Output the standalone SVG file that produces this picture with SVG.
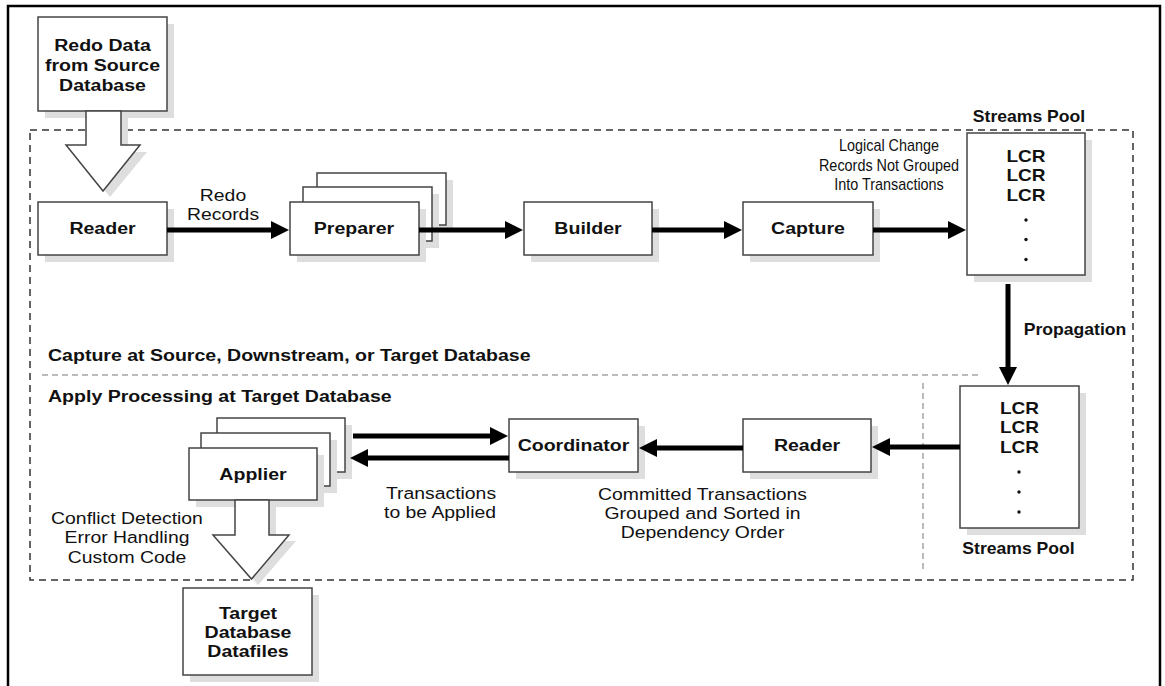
<svg xmlns="http://www.w3.org/2000/svg" width="1165" height="686" viewBox="0 0 1165 686">
<defs>
<style>
.box{fill:#fff;stroke:#444;stroke-width:1.5}
.sh{fill:#dedede}
.b{font-family:"Liberation Sans",Arial,Helvetica,sans-serif;font-weight:bold;font-size:17px;fill:#111}
.bs{font-family:"Liberation Sans",Arial,Helvetica,sans-serif;font-weight:bold;font-size:16px;fill:#111}
.r{font-family:"Liberation Sans",Arial,Helvetica,sans-serif;font-size:17px;fill:#111}
.rs{font-family:"Liberation Sans",Arial,Helvetica,sans-serif;font-size:16px;fill:#111}
.c{text-anchor:middle}
.ln{stroke:#000;stroke-width:5;fill:none}
.dot{fill:#111}
</style>
<marker id="ah" markerUnits="userSpaceOnUse" markerWidth="18" markerHeight="18" refX="6" refY="9" orient="auto">
<path d="M0,0 L18,9 L0,18 z" fill="#000"/>
</marker>
</defs>
<rect x="0" y="0" width="1165" height="686" fill="#fff"/>
<rect x="8" y="6" width="1152" height="700" fill="none" stroke="#000" stroke-width="2.5"/>

<g id="regions">
<rect x="30" y="130" width="1103" height="450" fill="none" stroke="#333" stroke-width="1.5" stroke-dasharray="7 5"/>
<line x1="42" y1="375" x2="980" y2="375" stroke="#bbb" stroke-width="2" stroke-dasharray="6 4"/>
<line x1="923" y1="383" x2="923" y2="573" stroke="#bbb" stroke-width="2" stroke-dasharray="6 4"/>
<text class="b" transform="translate(48,361) scale(1.15,1)">Capture at Source, Downstream, or Target Database</text>
<text class="b" transform="translate(48,402) scale(1.15,1)">Apply Processing at Target Database</text>
</g>

<g id="redo-data">
<rect class="sh" x="45" y="24" width="129" height="94"/>
<rect class="box" x="38" y="17" width="129" height="94"/>
<text class="b c" transform="translate(102.5,51) scale(1.15,1)">Redo Data</text>
<text class="b c" transform="translate(102.5,71) scale(1.15,1)">from Source</text>
<text class="b c" transform="translate(102.5,91) scale(1.15,1)">Database</text>
<polygon class="sh" points="93,118 93,152 73,152 110,197 147,152 128,152 128,118"/>
<polygon class="box" points="86,111 86,145 66,145 103,191 140,145 121,145 121,111"/>
</g>

<g id="reader">
<rect class="sh" x="45" y="209" width="129" height="53"/>
<rect class="box" x="38" y="202" width="129" height="53"/>
<text class="b c" transform="translate(102.5,234) scale(1.15,1)">Reader</text>
</g>

<g id="preparer">
<rect class="sh" x="324" y="180" width="129" height="52"/>
<rect class="box" x="317" y="173" width="129" height="52"/>
<rect class="sh" x="310" y="194" width="129" height="54"/>
<rect class="box" x="303" y="187" width="129" height="54"/>
<rect class="sh" x="297" y="209" width="129" height="53"/>
<rect class="box" x="290" y="202" width="129" height="53"/>
<text class="b c" transform="translate(354,234) scale(1.15,1)">Preparer</text>
</g>

<g id="builder">
<rect class="sh" x="531" y="209" width="128" height="53"/>
<rect class="box" x="524" y="202" width="128" height="53"/>
<text class="b c" transform="translate(588,234) scale(1.15,1)">Builder</text>
</g>

<g id="capture">
<rect class="sh" x="750" y="209" width="130" height="53"/>
<rect class="box" x="743" y="202" width="130" height="53"/>
<text class="b c" transform="translate(808,234) scale(1.15,1)">Capture</text>
</g>

<g id="streams-pool-1">
<text class="bs c" transform="translate(1029,122) scale(1.1,1)">Streams Pool</text>
<rect class="sh" x="974" y="140" width="118" height="142"/>
<rect class="box" x="967" y="133" width="118" height="142"/>
<text class="b c" transform="translate(1026,162) scale(1.12,1)">LCR</text>
<text class="b c" transform="translate(1026,181) scale(1.12,1)">LCR</text>
<text class="b c" transform="translate(1026,201) scale(1.12,1)">LCR</text>
<circle class="dot" cx="1026" cy="220" r="1.7"/>
<circle class="dot" cx="1026" cy="239.5" r="1.7"/>
<circle class="dot" cx="1026" cy="259.5" r="1.7"/>
</g>

<g id="streams-pool-2">
<rect class="sh" x="967" y="393" width="119" height="142"/>
<rect class="box" x="960" y="386" width="119" height="142"/>
<text class="b c" transform="translate(1019.5,413.5) scale(1.12,1)">LCR</text>
<text class="b c" transform="translate(1019.5,432.5) scale(1.12,1)">LCR</text>
<text class="b c" transform="translate(1019.5,452.5) scale(1.12,1)">LCR</text>
<circle class="dot" cx="1019" cy="472" r="1.7"/>
<circle class="dot" cx="1019" cy="492" r="1.7"/>
<circle class="dot" cx="1019" cy="512" r="1.7"/>
<text class="bs c" transform="translate(1018.5,553.5) scale(1.1,1)">Streams Pool</text>
</g>

<g id="reader-2">
<rect class="sh" x="750" y="426" width="128" height="53"/>
<rect class="box" x="743" y="419" width="128" height="53"/>
<text class="b c" transform="translate(807,451) scale(1.15,1)">Reader</text>
</g>

<g id="coordinator">
<rect class="sh" x="516" y="426" width="129" height="53"/>
<rect class="box" x="509" y="419" width="129" height="53"/>
<text class="b c" transform="translate(573.5,451) scale(1.15,1)">Coordinator</text>
</g>

<g id="applier">
<rect class="sh" x="224" y="425" width="128" height="54"/>
<rect class="box" x="217" y="418" width="128" height="54"/>
<rect class="sh" x="208" y="440" width="129" height="53"/>
<rect class="box" x="201" y="433" width="129" height="53"/>
<rect class="sh" x="196" y="455" width="128" height="52"/>
<rect class="box" x="189" y="448" width="128" height="52"/>
<text class="b c" transform="translate(253,480) scale(1.15,1)">Applier</text>
<polygon class="sh" points="242,507 242,541 220,541 258,585 296,541 276,541 276,507"/>
<polygon class="box" points="235,500 235,535 213,535 251.5,579 289,535 269,535 269,500"/>
</g>

<g id="target-datafiles">
<rect class="sh" x="190" y="595" width="129" height="87"/>
<rect class="box" x="183" y="588" width="129" height="87"/>
<text class="b c" transform="translate(248,618.5) scale(1.15,1)">Target</text>
<text class="b c" transform="translate(248,637.5) scale(1.15,1)">Database</text>
<text class="b c" transform="translate(248,657) scale(1.15,1)">Datafiles</text>
</g>

<g id="connectors">
<line class="ln" x1="167" y1="230" x2="277" y2="230" marker-end="url(#ah)"/>
<line class="ln" x1="419" y1="230" x2="511" y2="230" marker-end="url(#ah)"/>
<line class="ln" x1="652" y1="230" x2="730" y2="230" marker-end="url(#ah)"/>
<line class="ln" x1="873" y1="230" x2="954" y2="230" marker-end="url(#ah)"/>
<line class="ln" x1="1008" y1="284" x2="1008" y2="373" marker-end="url(#ah)"/>
<line class="ln" x1="960" y1="447" x2="884" y2="447" marker-end="url(#ah)"/>
<line class="ln" x1="743" y1="448" x2="651" y2="448" marker-end="url(#ah)"/>
<line class="ln" x1="353" y1="436" x2="496" y2="436" marker-end="url(#ah)"/>
<line class="ln" x1="509" y1="458" x2="362" y2="458" marker-end="url(#ah)"/>
</g>

<g id="labels">
<text class="r c" transform="translate(223,201) scale(1.14,1)">Redo</text>
<text class="r c" transform="translate(223,220) scale(1.14,1)">Records</text>
<text class="rs c" transform="translate(889,151) scale(0.9,1)">Logical Change</text>
<text class="rs c" transform="translate(889,171) scale(0.9,1)">Records Not Grouped</text>
<text class="rs c" transform="translate(889,190) scale(0.9,1)">Into Transactions</text>
<text class="bs c" transform="translate(1075,335) scale(1.1,1)">Propagation</text>
<text class="r c" transform="translate(441,499) scale(1.14,1)">Transactions</text>
<text class="r c" transform="translate(440,518) scale(1.14,1)">to be Applied</text>
<text class="r c" transform="translate(702.5,500) scale(1.14,1)">Committed Transactions</text>
<text class="r c" transform="translate(702.5,519) scale(1.14,1)">Grouped and Sorted in</text>
<text class="r c" transform="translate(702.5,538) scale(1.14,1)">Dependency Order</text>
<text class="r c" transform="translate(127,524) scale(1.14,1)">Conflict Detection</text>
<text class="r c" transform="translate(127,543) scale(1.14,1)">Error Handling</text>
<text class="r c" transform="translate(127,563) scale(1.14,1)">Custom Code</text>
</g>
</svg>
